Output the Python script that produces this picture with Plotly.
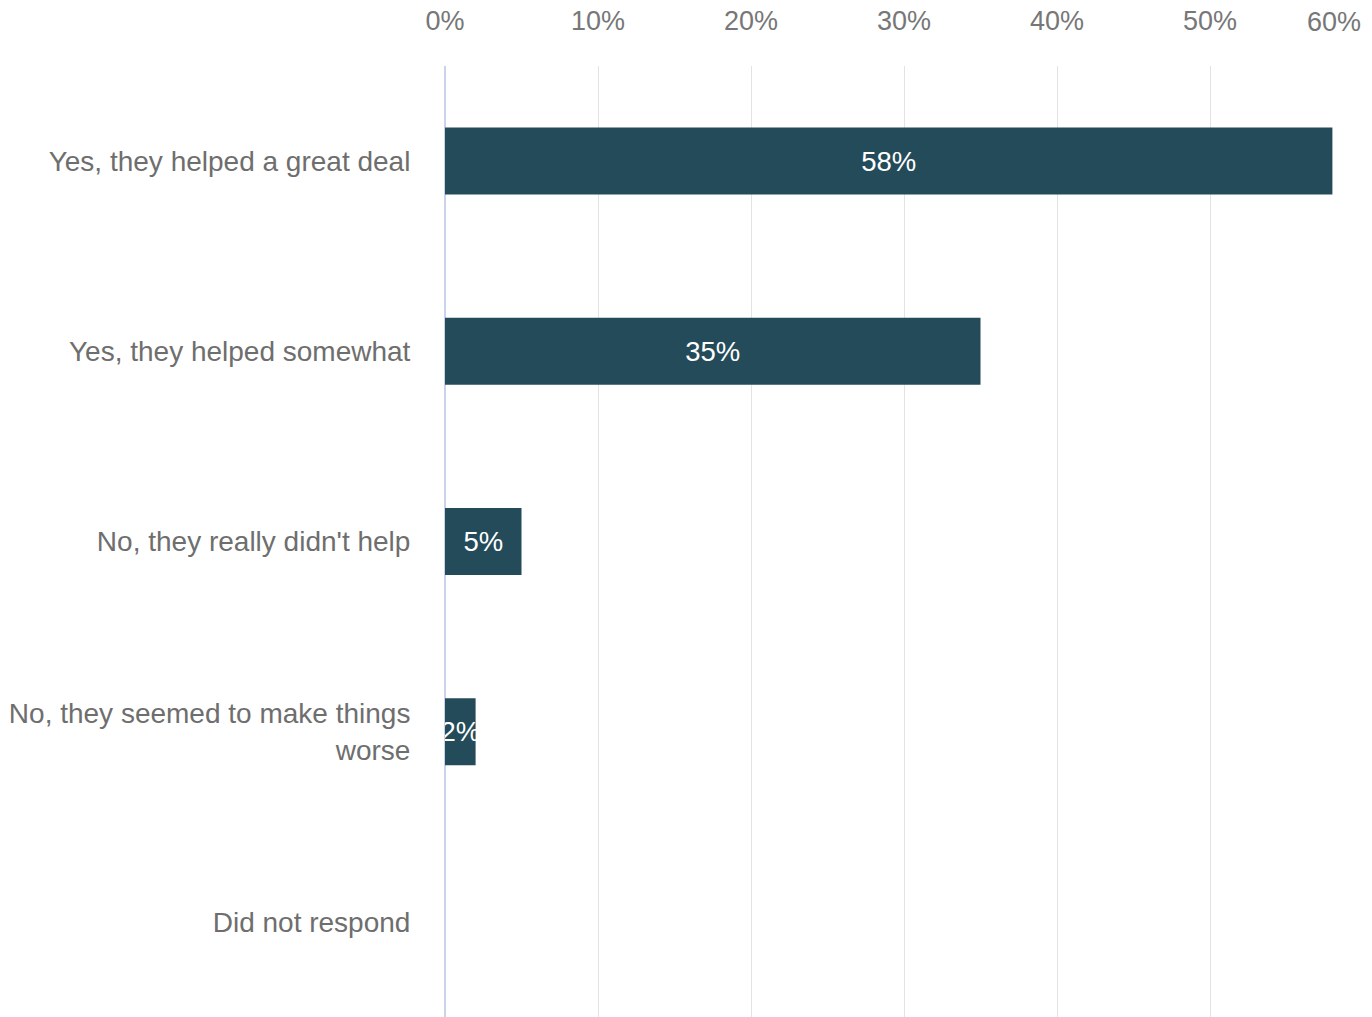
import plotly.graph_objects as go

# Survey responses: did the measures help?
categories = [
    "Yes, they helped a great deal",
    "Yes, they helped somewhat",
    "No, they really didn't help",
    "No, they seemed to make things<br>worse",
    "Did not respond",
]
shares = [58, 35, 5, 2, 0]  # percent of respondents
tick_values = [0, 10, 20, 30, 40, 50]
tick_labels = ["0%", "10%", "20%", "30%", "40%", "50%"]
last_tick_value = 60
last_tick_label = "60%"

bar_labels = [f"{v}%" if v > 0 else "" for v in shares]

FONT = "Arial, Liberation Sans, sans-serif"
BAR_COLOR = "#244b5a"

fig = go.Figure(
    go.Bar(
        x=shares,
        y=categories,
        orientation="h",
        marker=dict(color=BAR_COLOR, line=dict(width=0)),
        text=bar_labels,
        textposition="inside",
        insidetextanchor="middle",
        textangle=0,
        constraintext="none",
        textfont=dict(family=FONT, size=27.5, color="white"),
        hoverinfo="skip",
    )
)

fig.update_layout(
    width=1372,
    height=1017,
    margin=dict(l=445, r=9, t=66, b=0),
    paper_bgcolor="white",
    plot_bgcolor="white",
    bargap=0.648,
    showlegend=False,
    xaxis=dict(
        side="top",
        range=[0, 60],
        tickvals=tick_values + [last_tick_value],
        ticktext=tick_labels + [""],
        showgrid=True,
        gridcolor="#e3e3e3",
        gridwidth=1,
        zeroline=True,
        zerolinecolor="#cbd3ec",
        zerolinewidth=1.5,
        showline=False,
        ticks="outside",
        ticklen=24,
        tickcolor="rgba(0,0,0,0)",
        tickfont=dict(family=FONT, size=27, color="#777777"),
        fixedrange=True,
    ),
    yaxis=dict(
        categoryorder="array",
        categoryarray=categories,
        autorange="reversed",
        showgrid=False,
        zeroline=False,
        showline=False,
        ticks="outside",
        ticklen=28,
        tickcolor="rgba(0,0,0,0)",
        tickfont=dict(family=FONT, size=28, color="#6e6e6e"),
        fixedrange=True,
    ),
    annotations=[
        dict(
            x=last_tick_value,
            xref="x",
            y=1,
            yref="paper",
            yshift=44,
            text=last_tick_label,
            showarrow=False,
            xanchor="right",
            yanchor="middle",
            font=dict(family=FONT, size=27, color="#777777"),
        )
    ],
)

fig.write_html("out.html")
